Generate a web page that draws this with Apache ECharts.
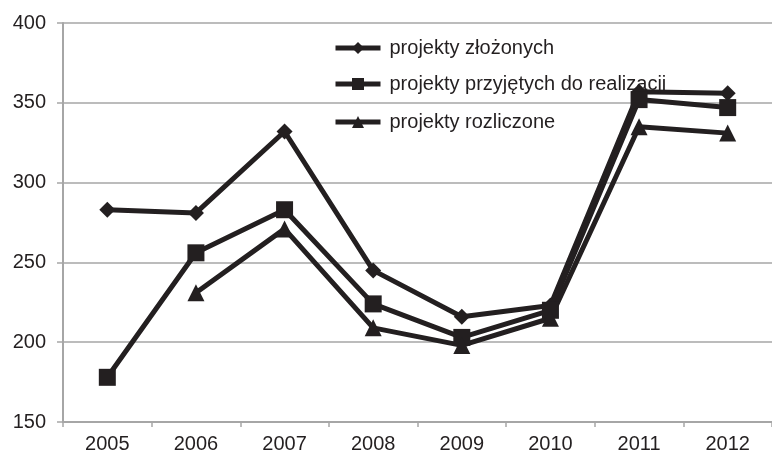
<!DOCTYPE html>
<html>
<head>
<meta charset="utf-8">
<script src="https://cdn.jsdelivr.net/npm/echarts@6/dist/echarts.min.js"></script>
<style>html,body{margin:0;padding:0;background:#fff;}#c{width:772px;height:455px;}</style>
</head>
<body>
<div id="c"></div>
<script>
var categories = ['2005','2006','2007','2008','2009','2010','2011','2012'];
var seriesNames = ['projekty złożonych','projekty przyjętych do realizacji','projekty rozliczone'];
var zlozonych = [283, 281, 332, 245, 216, 223, 357, 356];
var przyjetych = [178, 256, 283, 224, 203, 220, 352, 347];
var rozliczone = [null, 231, 271, 209, 198, 215, 335, 331];
var yTicks = [150, 200, 250, 300, 350, 400];

var ink = '#231f20';
var gray = '#a6a6a6';
var font = 'Liberation Sans, Arial, sans-serif';

var chart = echarts.init(document.getElementById('c'), null, {renderer:'canvas'});
function mkSeries(name, data, symbol, size){
  return {
    name: name, type: 'line', data: data, symbol: symbol, symbolSize: size,
    connectNulls: false, animation: false,
    lineStyle: {color: ink, width: 5},
    itemStyle: {color: ink, borderWidth: 0},
    emphasis: {disabled: true}
  };
}
function mkLegend(name, top){
  return {
    data: [name], left: 328, top: top, itemWidth: 45, itemHeight: 15,
    lineStyle: {width: 5, color: ink},
    textStyle: {color: ink, fontSize: 20, fontFamily: font, padding: [0,0,0,4]},
    selectedMode: false
  };
}
chart.setOption({
  animation: false,
  backgroundColor: '#fff',
  legend: [
    mkLegend(seriesNames[0], 33),
    mkLegend(seriesNames[1], 69),
    mkLegend(seriesNames[2], 107)
  ],
  grid: {left: 63, top: 23, width: 719, height: 399, containLabel: false},
  xAxis: {
    type: 'category', data: categories, boundaryGap: true,
    axisLine: {lineStyle: {color: gray, width: 2}},
    axisTick: {show: true, length: 5, lineStyle: {color: gray, width: 1.5}, alignWithLabel: false},
    axisLabel: {color: ink, fontSize: 20, fontFamily: font, margin: 12}
  },
  yAxis: {
    type: 'value', min: yTicks[0], max: yTicks[yTicks.length-1], interval: 50,
    axisLine: {show: true, lineStyle: {color: gray, width: 2}},
    axisTick: {show: true, length: 6, lineStyle: {color: gray, width: 1.5}},
    axisLabel: {color: ink, fontSize: 20, fontFamily: font, margin: 17},
    splitLine: {show: true, lineStyle: {color: gray, width: 1.5}}
  },
  series: [
    mkSeries(seriesNames[0], zlozonych, 'diamond', 16),
    mkSeries(seriesNames[1], przyjetych, 'rect', 17),
    mkSeries(seriesNames[2], rozliczone, 'triangle', 17)
  ]
});
</script>
</body>
</html>
